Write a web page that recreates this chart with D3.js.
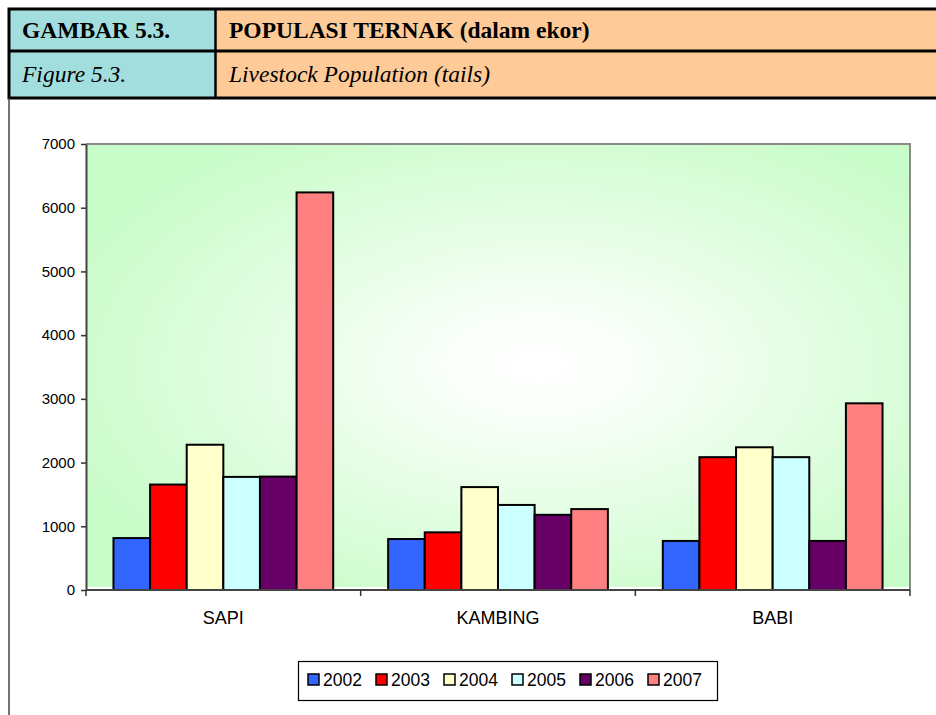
<!doctype html>
<html>
<head>
<meta charset="utf-8">
<script src="https://cdnjs.cloudflare.com/ajax/libs/d3/7.8.5/d3.min.js"></script>
<style>
  body { margin: 0; background: #ffffff; }
  svg { display: block; }
  .hdr { font-family: "Liberation Serif", "Times New Roman", serif; font-size: 23.5px; fill: #000; }
  .cat { font-family: "Liberation Sans", Arial, sans-serif; font-size: 18px; fill: #000; }
  .leg { font-family: "Liberation Sans", Arial, sans-serif; font-size: 17.5px; fill: #000; }
</style>
</head>
<body>
<svg id="chart" width="936" height="715"></svg>
<script>
// chart values
var categories = ["SAPI", "KAMBING", "BABI"];
var years = ["2002", "2003", "2004", "2005", "2006", "2007"];
var sapi    = [815, 1655, 2280, 1775, 1780, 6240];
var kambing = [800, 905, 1615, 1335, 1180, 1270];
var babi    = [770, 2085, 2240, 2085, 770, 2930];
var yTicks  = [0, 1000, 2000, 3000, 4000, 5000, 6000, 7000];
var colors  = ["#3366ff", "#ff0000", "#ffffcc", "#ccffff", "#660066", "#ff8080"];

var titleLeft  = ["GAMBAR 5.3.", "Figure 5.3."];
var titleRight = ["POPULASI TERNAK (dalam ekor)", "Livestock Population (tails)"];

var rows = [sapi, kambing, babi].map(function(vals, i) {
  return { cat: categories[i], values: vals.map(function(v, j) { return { year: years[j], value: v }; }) };
});

var svg = d3.select("#chart");

// ---- header table ----
var head = svg.append("g");
head.append("rect").attr("x", 9).attr("y", 9).attr("width", 207).attr("height", 89).attr("fill", "#a2dede");
head.append("rect").attr("x", 216).attr("y", 9).attr("width", 730).attr("height", 89).attr("fill", "#fecb98");
head.append("rect").attr("x", 9).attr("y", 9).attr("width", 940).attr("height", 89)
  .attr("fill", "none").attr("stroke", "#000").attr("stroke-width", 3);
head.append("line").attr("x1", 9).attr("x2", 940).attr("y1", 51).attr("y2", 51).attr("stroke", "#000").attr("stroke-width", 3);
head.append("line").attr("x1", 215.5).attr("x2", 215.5).attr("y1", 9).attr("y2", 98).attr("stroke", "#000").attr("stroke-width", 2.5);

head.append("text").attr("class", "hdr").attr("x", 22).attr("y", 38).style("font-weight", "bold").text(titleLeft[0]);
head.append("text").attr("class", "hdr").attr("x", 229).attr("y", 38).style("font-weight", "bold").text(titleRight[0]);
head.append("text").attr("class", "hdr").attr("x", 22).attr("y", 82).style("font-style", "italic").text(titleLeft[1]);
head.append("text").attr("class", "hdr").attr("x", 229).attr("y", 82).style("font-style", "italic").text(titleRight[1]);

// frame under the header
svg.append("line").attr("x1", 9).attr("x2", 9).attr("y1", 98).attr("y2", 715)
  .attr("stroke", "#444").attr("stroke-width", 1.5);

// ---- plot ----
var plotLeft = 86, plotRight = 910, plotTop = 144, plotBottom = 590;

var x0 = d3.scaleBand().domain(categories).range([plotLeft, plotRight]).paddingInner(0).paddingOuter(0);
var x1 = d3.scaleBand().domain(years).range([0, x0.bandwidth()]).paddingInner(0).paddingOuter(0.75);
var y = d3.scaleLinear().domain([0, 7000]).range([plotBottom, plotTop]);

var defs = svg.append("defs");
var grad = defs.append("radialGradient").attr("id", "bg")
  .attr("cx", "0.55").attr("cy", "0.5").attr("r", "0.62");
grad.append("stop").attr("offset", "0").attr("stop-color", "#ffffff");
grad.append("stop").attr("offset", "0.15").attr("stop-color", "#fbfffb");
grad.append("stop").attr("offset", "1").attr("stop-color", "#c8fcc8");

svg.append("rect").attr("x", plotLeft).attr("y", plotTop)
  .attr("width", plotRight - plotLeft).attr("height", plotBottom - plotTop - 3)
  .attr("fill", "url(#bg)");

// top and right border of plot area
svg.append("path")
  .attr("d", "M" + plotLeft + "," + plotTop + "H" + plotRight + "V" + plotBottom)
  .attr("fill", "none").attr("stroke", "#8a8a8a").attr("stroke-width", 2);

// bars
var groups = svg.append("g").selectAll("g").data(rows).enter().append("g")
  .attr("transform", function(d) { return "translate(" + x0(d.cat) + ",0)"; });

groups.selectAll("rect").data(function(d) { return d.values; }).enter().append("rect")
  .attr("x", function(d) { return x1(d.year); })
  .attr("y", function(d) { return y(d.value); })
  .attr("width", x1.bandwidth())
  .attr("height", function(d) { return y(0) - y(d.value); })
  .attr("fill", function(d, i) { return colors[i]; })
  .attr("stroke", "#000").attr("stroke-width", 2);

// y axis
var yAxis = d3.axisLeft(y).tickValues(yTicks).tickSizeInner(5).tickSizeOuter(0).tickPadding(6)
  .tickFormat(d3.format("d"));
var gy = svg.append("g").attr("transform", "translate(" + plotLeft + ",0)").call(yAxis);
gy.attr("font-size", null).attr("font-family", null);
gy.select(".domain").attr("stroke", "#444").attr("stroke-width", 2);
gy.selectAll(".tick line").attr("stroke", "#333").attr("stroke-width", 1.5);
gy.selectAll(".tick text")
  .style("font-family", '"Liberation Sans", Arial, sans-serif')
  .style("font-size", "15px")
  .attr("fill", "#000");

// x axis line with ticks on category boundaries
var boundaries = categories.map(function(c) { return x0(c); }).concat([plotRight]);
svg.append("line").attr("x1", plotLeft).attr("x2", plotRight).attr("y1", plotBottom).attr("y2", plotBottom)
  .attr("stroke", "#444").attr("stroke-width", 2);
svg.append("g").selectAll("line").data(boundaries).enter().append("line")
  .attr("x1", function(d) { return d; }).attr("x2", function(d) { return d; })
  .attr("y1", plotBottom).attr("y2", plotBottom + 6)
  .attr("stroke", "#333").attr("stroke-width", 1.5);

svg.append("g").selectAll("text").data(categories).enter().append("text")
  .attr("class", "cat")
  .attr("x", function(d) { return x0(d) + x0.bandwidth() / 2; })
  .attr("y", 624)
  .attr("text-anchor", "middle")
  .text(function(d) { return d; });

// legend
var legend = svg.append("g");
legend.append("rect").attr("x", 298.5).attr("y", 661.5).attr("width", 419).attr("height", 39)
  .attr("fill", "#fff").attr("stroke", "#000").attr("stroke-width", 1.2);
var item = legend.selectAll("g.item").data(years).enter().append("g").attr("class", "item")
  .attr("transform", function(d, i) { return "translate(" + (308 + i * 68) + ",674)"; });
item.append("rect").attr("width", 11).attr("height", 11)
  .attr("fill", function(d, i) { return colors[i]; })
  .attr("stroke", "#000").attr("stroke-width", 1.5);
item.append("text").attr("class", "leg").attr("x", 15).attr("y", 11.5).text(function(d) { return d; });
</script>
</body>
</html>
